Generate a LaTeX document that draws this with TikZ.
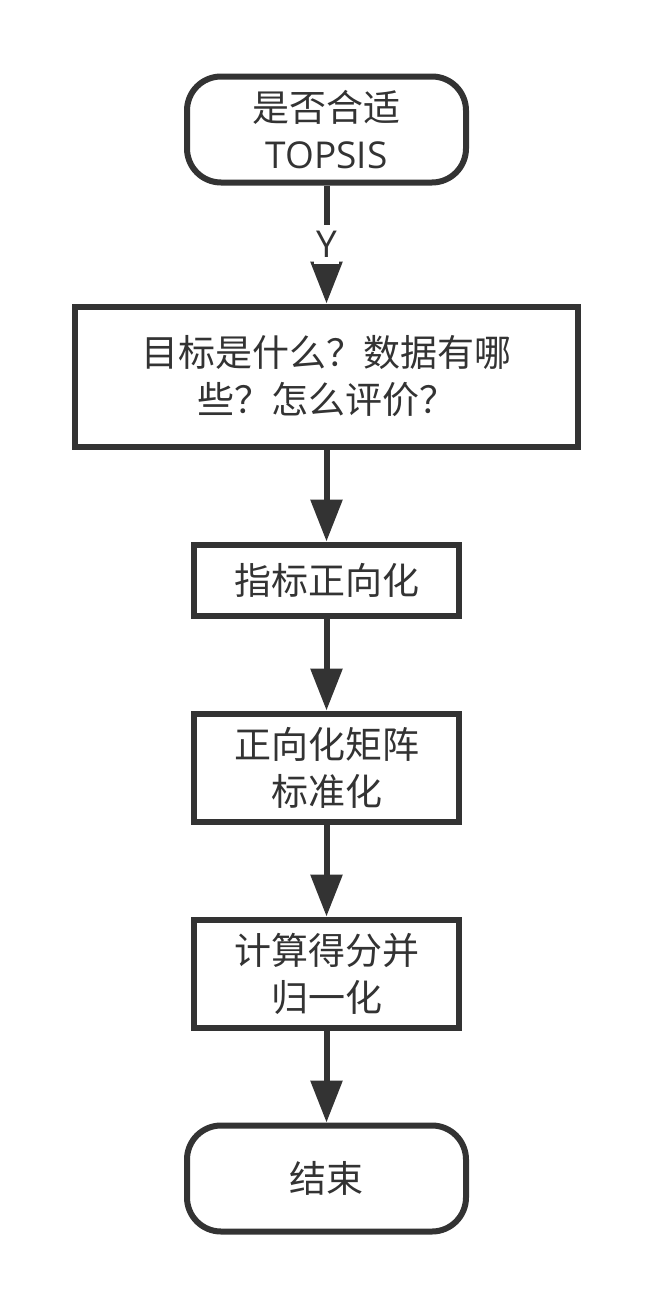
\documentclass[tikz,border=0pt]{standalone}
\usepackage{fontspec}
\setmainfont{Open Sans}
\newfontfamily\cjk{Noto Sans CJK SC}
\usepackage{tikz}
\usetikzlibrary{positioning, arrows.meta}

\definecolor{darkline}{HTML}{333333}

\begin{document}
\begin{tikzpicture} [
        font=\fontsize{18.5pt}{23.5pt}\selectfont,
        terminal/.style={rectangle, draw=darkline, line width=3pt, rounded corners=17pt, align=center, text=darkline, minimum width=139.5pt, minimum height=53pt},
        block/.style={rectangle, draw=darkline, line width=3pt, align=center, text=darkline, minimum width=132.5pt, minimum height=54pt},
        label/.style={fill=white, text=darkline, inner xsep=1pt, inner ysep=3pt, anchor=center},
        line/.style={draw=darkline, line width=3pt, -{Triangle[length=21pt, width=15.5pt]}}
    ]
        \useasboundingbox (0,0) rectangle (325.5pt,-653pt);

        % Nodes
        \node[terminal] (fit) at (163.25pt,-64.75pt) {{\cjk 是否合适}\\TOPSIS};

        \node[block, below=59pt of fit, minimum width=251.5pt, minimum height=70pt] (goal) {\cjk 目标是什么？数据有哪\\\cjk 些？怎么评价？};
        \node[block, below=46pt of goal, minimum height=35.5pt] (positive) {\cjk 指标正向化};
        \node[block, below=46pt of positive] (normal) {\cjk 正向化矩阵\\\cjk 标准化};
        \node[block, below=46pt of normal] (score) {\cjk 计算得分并\\\cjk 归一化};

        \node[terminal, below=46pt of score] (stop) {\cjk 结束};

        % Paths
        \path [line] (fit) -- node[label, pos=0.5] {Y} (goal);
        \path [line] (goal) -- (positive);
        \path [line] (positive) -- (normal);
        \path [line] (normal) -- (score);
        \path [line] (score) -- (stop);
    \end{tikzpicture}
\end{document}
